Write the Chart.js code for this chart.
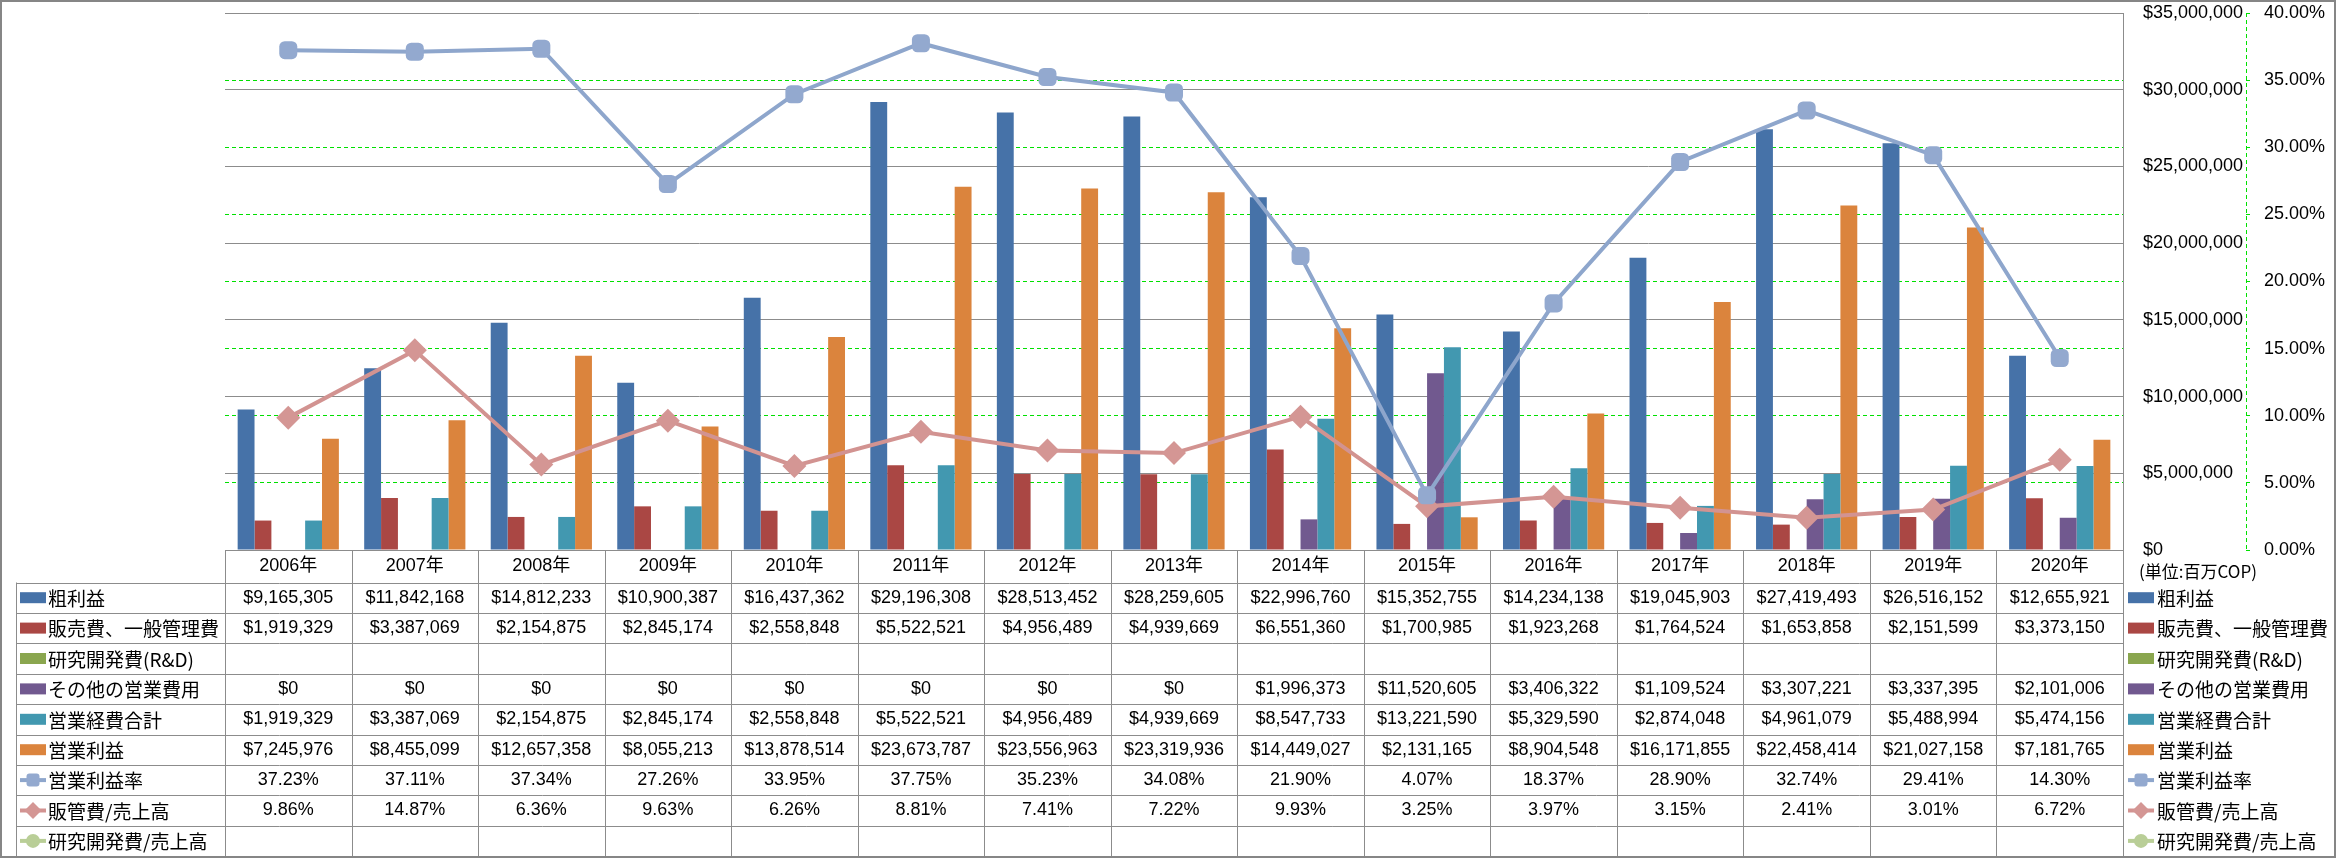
<!DOCTYPE html>
<html lang="ja">
<head>
<meta charset="utf-8">
<title>営業利益の推移</title>
<script src="https://cdn.jsdelivr.net/npm/chart.js@4.4.1/dist/chart.umd.min.js"></script>
<style>
  html, body { margin: 0; padding: 0; background: #fff; }
  canvas { display: block; }
</style>
</head>
<body>
<canvas id="myChart" width="2336" height="858"></canvas>
<script>
const years = ['2006年','2007年','2008年','2009年','2010年','2011年','2012年','2013年','2014年','2015年','2016年','2017年','2018年','2019年','2020年'];

const grossProfit = [9165305,11842168,14812233,10900387,16437362,29196308,28513452,28259605,22996760,15352755,14234138,19045903,27419493,26516152,12655921];
const sgaCost     = [1919329,3387069,2154875,2845174,2558848,5522521,4956489,4939669,6551360,1700985,1923268,1764524,1653858,2151599,3373150];
const rndCost     = [null,null,null,null,null,null,null,null,null,null,null,null,null,null,null];
const otherCost   = [0,0,0,0,0,0,0,0,1996373,11520605,3406322,1109524,3307221,3337395,2101006];
const totalCost   = [1919329,3387069,2154875,2845174,2558848,5522521,4956489,4939669,8547733,13221590,5329590,2874048,4961079,5488994,5474156];
const opProfit    = [7245976,8455099,12657358,8055213,13878514,23673787,23556963,23319936,14449027,2131165,8904548,16171855,22458414,21027158,7181765];

const opMargin    = [37.23,37.11,37.34,27.26,33.95,37.75,35.23,34.08,21.90,4.07,18.37,28.90,32.74,29.41,14.30];
const sgaRatio    = [9.86,14.87,6.36,9.63,6.26,8.81,7.41,7.22,9.93,3.25,3.97,3.15,2.41,3.01,6.72];
const rndRatio    = [null,null,null,null,null,null,null,null,null,null,null,null,null,null,null];

const moneyAxis = {min: 0, max: 35000000, step: 5000000};
const pctAxis = {min: 0, max: 40, step: 5};
const unitLabel = '(単位:百万COP)';

const numFont = "18px 'Liberation Sans', 'Noto Sans CJK JP', sans-serif";
const nameFont = "19px 'Noto Sans CJK JP', sans-serif";

function money(v){ return '$' + v.toLocaleString('en-US'); }
function pct(v){ return v.toFixed(2) + '%'; }

const series = [
  {label:'粗利益', kind:'bar', color:'#4672A8', data:grossProfit, fmt:money},
  {label:'販売費、一般管理費', kind:'bar', color:'#AA4744', data:sgaCost, fmt:money},
  {label:'研究開発費(R&D)', kind:'bar', color:'#8AA64F', data:rndCost, fmt:money},
  {label:'その他の営業費用', kind:'bar', color:'#71598F', data:otherCost, fmt:money},
  {label:'営業経費合計', kind:'bar', color:'#4298B0', data:totalCost, fmt:money},
  {label:'営業利益', kind:'bar', color:'#DB843D', data:opProfit, fmt:money},
  {label:'営業利益率', kind:'line', color:'#93A9CF', line:'#8EA6CC', point:'rectRounded', radius:10.5, data:opMargin, fmt:pct},
  {label:'販管費/売上高', kind:'line', color:'#D49694', line:'#D29391', point:'rectRot', radius:12, data:sgaRatio, fmt:pct},
  {label:'研究開発費/売上高', kind:'line', color:'#B9CE97', line:'#B9CE97', point:'circle', radius:8, data:rndRatio, fmt:pct}
];

const datasets = series.map(function(s){
  if (s.kind === 'bar') {
    return {type:'bar', label:s.label, data:s.data, backgroundColor:s.color, borderWidth:0,
      yAxisID:'y', order:1, categoryPercentage:0.8, barPercentage:1};
  }
  return {type:'line', label:s.label, data:s.data, borderColor:s.line, backgroundColor:s.color,
    borderWidth:4, pointStyle:s.point, pointRadius:s.radius, pointBackgroundColor:s.color,
    pointBorderWidth:0, yAxisID:'y1', order:0, tension:0};
});

function drawKey(ctx, s, x, y){
  if (s.kind === 'bar') {
    ctx.fillStyle = s.color;
    ctx.fillRect(x, y - 5.5, 26, 11);
    return;
  }
  ctx.setLineDash([]);
  ctx.strokeStyle = s.line;
  ctx.lineWidth = 4;
  ctx.beginPath();
  ctx.moveTo(x, y);
  ctx.lineTo(x + 26, y);
  ctx.stroke();
  ctx.fillStyle = s.color;
  ctx.beginPath();
  if (s.point === 'rectRounded') {
    ctx.roundRect(x + 6.5, y - 6.5, 13, 13, 3);
  } else if (s.point === 'rectRot') {
    ctx.moveTo(x + 13, y - 8.5);
    ctx.lineTo(x + 21.5, y);
    ctx.lineTo(x + 13, y + 8.5);
    ctx.lineTo(x + 4.5, y);
    ctx.closePath();
  } else {
    ctx.arc(x + 13, y, 7, 0, Math.PI * 2);
  }
  ctx.fill();
}

const dataTable = {
  id: 'dataTable',
  afterDraw(chart){
    const ctx = chart.ctx;
    const area = chart.chartArea;
    const xs = chart.scales.x;
    const y1 = chart.scales.y1;
    const colW = (area.right - area.left) / years.length;
    const headBottom = area.bottom + 32.5;
    const rowH = 30.4;
    const tableLeft = 16;
    const bottom = headBottom + rowH * series.length;
    const px = v => Math.round(v) + 0.5;

    ctx.save();

    // dashed axis line for the % scale
    ctx.strokeStyle = '#00E000';
    ctx.lineWidth = 1;
    ctx.setLineDash([4, 3]);
    ctx.beginPath();
    ctx.moveTo(px(y1.left), area.top);
    ctx.lineTo(px(y1.left), area.bottom);
    ctx.stroke();
    ctx.setLineDash([]);

    // table grid
    ctx.strokeStyle = '#8C8C8C';
    ctx.beginPath();
    ctx.moveTo(area.left, px(area.bottom));
    ctx.lineTo(area.right, px(area.bottom));
    for (let i = 0; i <= series.length; i++) {
      const y = px(headBottom + i * rowH);
      ctx.moveTo(tableLeft, y);
      ctx.lineTo(area.right, y);
    }
    for (let k = 0; k <= years.length; k++) {
      const x = px(area.left + k * colW);
      ctx.moveTo(x, area.bottom);
      ctx.lineTo(x, bottom);
    }
    ctx.moveTo(px(tableLeft), headBottom);
    ctx.lineTo(px(tableLeft), bottom);
    ctx.stroke();

    // header row
    ctx.fillStyle = '#000';
    ctx.textBaseline = 'middle';
    ctx.textAlign = 'center';
    ctx.font = numFont;
    years.forEach((yr, i) => ctx.fillText(yr, xs.getPixelForValue(i), area.bottom + 16));

    // rows
    series.forEach((s, r) => {
      const yc = headBottom + rowH * (r + 0.5);
      drawKey(ctx, s, 20, yc);
      drawKey(ctx, s, 2128, yc);
      ctx.fillStyle = '#000';
      ctx.textAlign = 'left';
      ctx.font = nameFont;
      ctx.fillText(s.label, 48, yc + 1);
      ctx.fillText(s.label, 2157, yc + 1);
      ctx.textAlign = 'center';
      ctx.font = numFont;
      s.data.forEach((v, i) => {
        if (v === null) return;
        ctx.fillText(s.fmt(v), xs.getPixelForValue(i), yc);
      });
    });

    ctx.textAlign = 'left';
    ctx.font = "17px 'Noto Sans CJK JP', sans-serif";
    ctx.fillText(unitLabel, 2139, area.bottom + 22);

    // outer frame
    ctx.strokeStyle = '#868686';
    ctx.lineWidth = 2;
    ctx.strokeRect(1, 1, chart.width - 2, chart.height - 2);
    ctx.restore();
  }
};

const ctx = document.getElementById('myChart');

new Chart(ctx, {
  data: {
    labels: years,
    datasets: datasets
  },
  options: {
    responsive: false,
    animation: false,
    devicePixelRatio: 1,
    layout: { padding: { left: 225, top: 13, right: 0, bottom: 0 } },
    scales: {
      x: {
        type: 'category',
        offset: true,
        ticks: { display: false },
        grid: { display: false },
        border: { display: false },
        afterFit: s => { s.height = 308; }
      },
      y: {
        position: 'right',
        weight: 0,
        min: moneyAxis.min,
        max: moneyAxis.max,
        ticks: {
          stepSize: moneyAxis.step,
          padding: 20,
          color: '#000',
          font: { family: "'Liberation Sans', sans-serif", size: 18 },
          callback: v => money(v)
        },
        grid: { color: '#8C8C8C', lineWidth: 1, drawTicks: false },
        border: { display: true, color: '#8C8C8C', width: 1 },
        afterFit: s => { s.width = 123; s.paddingTop = 11; s.paddingBottom = 11; }
      },
      y1: {
        position: 'right',
        weight: 1,
        min: pctAxis.min,
        max: pctAxis.max,
        ticks: {
          stepSize: pctAxis.step,
          padding: 14,
          color: '#000',
          font: { family: "'Liberation Sans', sans-serif", size: 18 },
          callback: v => pct(v)
        },
        grid: {
          color: c => (c.tick && (c.tick.value <= pctAxis.min || c.tick.value >= pctAxis.max)) ? 'rgba(0,0,0,0)' : '#00E000',
          tickColor: '#00E000',
          tickLength: 4,
          lineWidth: 1
        },
        border: { display: false, dash: [4, 3] },
        afterFit: s => { s.width = 90; s.paddingTop = 11; s.paddingBottom = 11; }
      }
    },
    plugins: {
      legend: { display: false },
      tooltip: { enabled: false }
    }
  },
  plugins: [dataTable]
});
</script>
</body>
</html>
